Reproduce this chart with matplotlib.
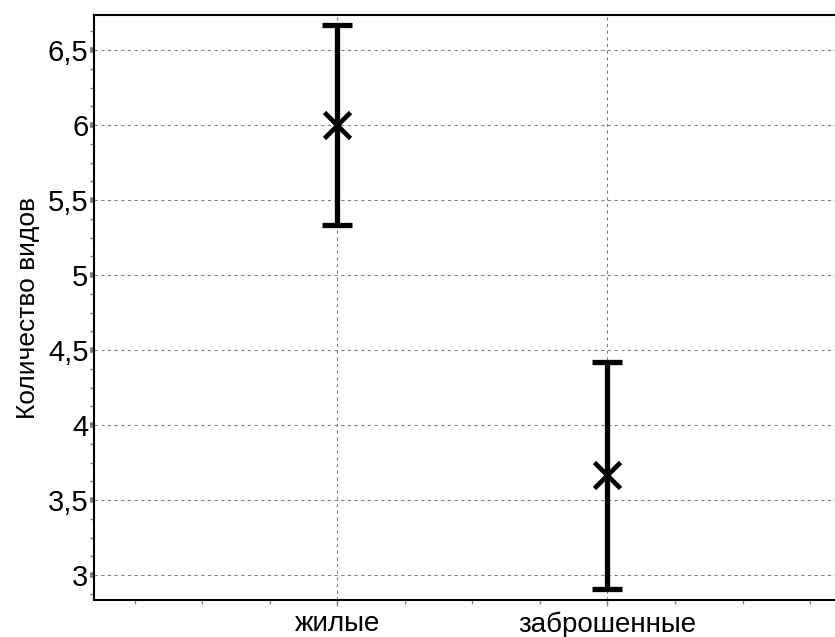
import numpy as np
import matplotlib.pyplot as plt
from matplotlib.ticker import MultipleLocator, FuncFormatter

plt.rcParams['font.family'] = ['Liberation Sans', 'DejaVu Sans']

# Данные
categories = ['жилые', 'заброшенные']
means = [6.0, 3.667]
upper = [6.667, 4.42]
lower = [5.333, 2.907]

x = np.arange(1, len(categories) + 1)
err = [np.array(means) - np.array(lower), np.array(upper) - np.array(means)]

fig = plt.figure(figsize=(8.35, 6.37), dpi=100)
ax = fig.add_axes([0.1126, 0.058, 0.89, 0.918])

ax.errorbar(x, means, yerr=err, fmt='none', ecolor='black',
            elinewidth=3.8, capsize=11, capthick=3.8, zorder=3)
ax.plot(x, means, linestyle='none', marker='x', markersize=19,
        markeredgewidth=3.4, color='black', zorder=4)

ax.set_xlim(0.1, 2.85)
ax.set_ylim(2.833, 6.733)
ax.set_xticks(x)
ax.set_xticklabels(categories, fontsize=20)
ax.xaxis.set_minor_locator(MultipleLocator(0.25))
ax.yaxis.set_major_locator(MultipleLocator(0.5))
ax.yaxis.set_minor_locator(MultipleLocator(0.125))
ax.yaxis.set_major_formatter(FuncFormatter(lambda v, p: ('%g' % v).replace('.', ',')))
ax.tick_params(axis='y', labelsize=21, color='gray', length=3, width=4, pad=1)
ax.tick_params(axis='x', which='major', color='gray', length=4, width=1, pad=4)
ax.tick_params(which='minor', color='gray', length=3, width=1)

ax.set_ylabel('Количество видов', fontsize=19, labelpad=6)
ax.grid(True, linestyle='--', color='gray', linewidth=0.8, dashes=(3, 3))
ax.set_axisbelow(True)
ax.spines['right'].set_visible(False)
for s in ['left', 'bottom', 'top']:
    ax.spines[s].set_linewidth(1.5)

plt.savefig('out.png', dpi=100)
